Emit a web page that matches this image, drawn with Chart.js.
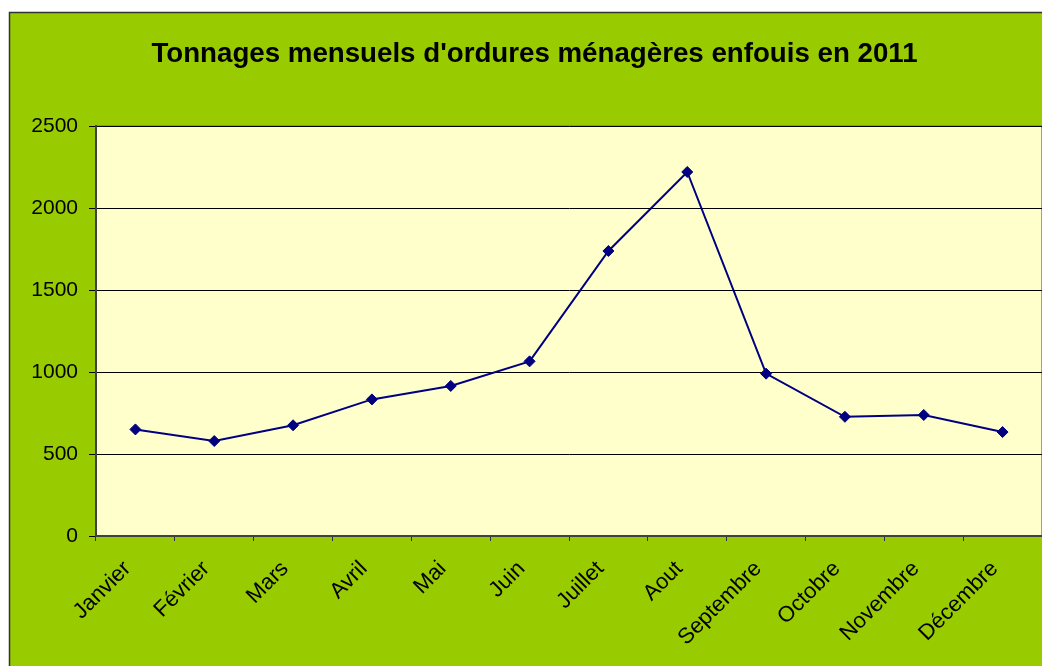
<!DOCTYPE html>
<html>
<head>
<meta charset="utf-8">
<script src="https://cdn.jsdelivr.net/npm/chart.js@4/dist/chart.umd.min.js"></script>
<style>
  html, body { margin: 0; padding: 0; background: #ffffff; overflow: hidden; }
  #wrap { width: 1042px; height: 666px; overflow: hidden; }
  #c { display: block; }
</style>
</head>
<body>
<div id="wrap"><canvas id="c" width="1049" height="666"></canvas></div>
<script>
const titleText = "Tonnages mensuels d'ordures ménagères enfouis en 2011";
const months = ['Janvier', 'Février', 'Mars', 'Avril', 'Mai', 'Juin', 'Juillet', 'Aout', 'Septembre', 'Octobre', 'Novembre', 'Décembre'];
const tonnages = [650, 579, 675, 833, 915, 1065, 1738, 2220, 990, 727, 738, 634];
const yTicks = [0, 500, 1000, 1500, 2000, 2500];

const frame = {
  id: 'frame',
  beforeDraw(chart) {
    const ctx = chart.ctx;
    const a = chart.chartArea;
    ctx.save();
    ctx.fillStyle = '#ffffff';
    ctx.fillRect(0, 0, chart.width, chart.height);
    ctx.fillStyle = '#99cc00';
    ctx.fillRect(9, 12, chart.width, chart.height);
    ctx.strokeStyle = '#333333';
    ctx.lineWidth = 1.5;
    ctx.beginPath();
    ctx.moveTo(9.5, chart.height + 2);
    ctx.lineTo(9.5, 12.5);
    ctx.lineTo(chart.width + 2, 12.5);
    ctx.stroke();
    ctx.fillStyle = '#ffffcc';
    ctx.fillRect(a.left, a.top, a.right - a.left, a.bottom - a.top);
    ctx.strokeStyle = '#808080';
    ctx.lineWidth = 1.5;
    ctx.beginPath();
    ctx.moveTo(a.left, a.top);
    ctx.lineTo(a.right, a.top);
    ctx.lineTo(a.right, a.bottom);
    ctx.stroke();
    ctx.restore();
  }
};

new Chart(document.getElementById('c'), {
  type: 'line',
  data: {
    labels: months,
    datasets: [{
      data: tonnages,
      borderColor: '#000080',
      backgroundColor: '#000080',
      borderWidth: 2,
      pointStyle: 'rectRot',
      pointRadius: 5.5,
      pointBackgroundColor: '#000080',
      pointBorderColor: '#000080',
      pointBorderWidth: 1,
      tension: 0,
      fill: false
    }]
  },
  options: {
    responsive: false,
    animation: false,
    devicePixelRatio: 1,
    layout: { padding: { left: 27, right: 7, top: 12, bottom: 0 } },
    plugins: {
      legend: { display: false },
      tooltip: { enabled: false },
      title: {
        display: true,
        text: titleText,
        color: '#000000',
        font: { family: '"Liberation Sans", Arial, sans-serif', size: 27.7, weight: 'bold', lineHeight: 1.2 },
        padding: { top: 25.4, bottom: 55.4 }
      }
    },
    scales: {
      x: {
        type: 'category',
        offset: true,
        grid: { display: true, offset: true, drawOnChartArea: false, drawTicks: true, tickLength: 5, color: '#333333', lineWidth: 1 },
        border: { display: true, color: '#404040', width: 2 },
        ticks: {
          color: '#000000',
          font: { family: '"Liberation Sans", Arial, sans-serif', size: 22 },
          minRotation: 45,
          maxRotation: 45,
          autoSkip: false,
          padding: 15,
          labelOffset: -8
        },
        afterFit(scale) { scale.height = 130; }
      },
      y: {
        min: 0,
        max: 2500,
        afterBuildTicks(scale) { scale.ticks = yTicks.map(v => ({ value: v })); },
        grid: { color: '#000000', lineWidth: 1, tickLength: 7, drawTicks: true },
        border: { display: true, color: '#404040', width: 2 },
        ticks: {
          color: '#000000',
          font: { family: '"Liberation Sans", Arial, sans-serif', size: 21 },
          padding: 11,
          callback: (v) => String(v)
        },
        afterFit(scale) { scale.width = 69; }
      }
    }
  },
  plugins: [frame]
});
</script>
</body>
</html>
